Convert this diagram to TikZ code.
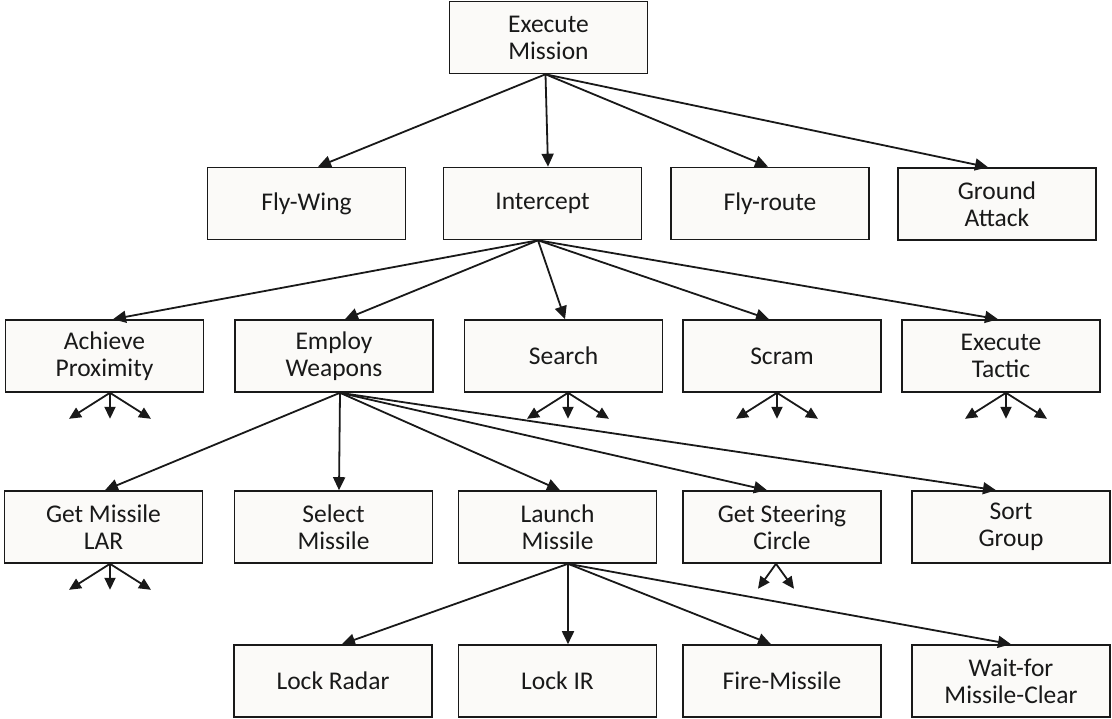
\documentclass[tikz,border=0pt]{standalone}
\usepackage{fontspec}
\setmainfont{Carlito}
\usetikzlibrary{positioning,arrows.meta,calc}
\definecolor{tbLine}{RGB}{25,25,25}
\definecolor{tbFill}{RGB}{251,250,248}
\definecolor{tbText}{RGB}{25,25,25}

\tikzset{
  task/.style={draw=tbLine, fill=tbFill, line width=1.6pt, minimum width=198pt,
    minimum height=72pt, inner sep=0pt, align=center, text=tbText,
    font=\fontsize{25.5}{27}\selectfont},
  link/.style={-{Triangle[length=13pt,width=12pt]}, tbLine, line width=1.8pt},
  stub/.style={-{Triangle[length=12pt,width=11pt]}, tbLine, line width=1.8pt}
}

\begin{document}
\begin{tikzpicture}[x=1pt, y=-1pt]
  % canvas
  \fill[white] (0,0) rectangle (1112,719);
  \useasboundingbox (0,0) rectangle (1112,719);

  % top level
  \node[task] (em) at (548.5,37.5) {Execute\\Mission};

  % second level
  \node[task] (fw) at (306.5,203.5) {Fly-Wing};
  \node[task] (ic) at (542.5,203.5) {Intercept};
  \node[task] (fr) at (770,203.5) {Fly-route};
  \node[task] (ga) at (997,204) {Ground\\Attack};

  % third level
  \node[task] (ap) at (104.5,356) {Achieve\\Proximity};
  \node[task] (ew) at (334,356) {Employ\\Weapons};
  \node[task] (se) at (563.5,356) {Search};
  \node[task] (sc) at (782,356) {Scram};
  \node[task] (et) at (1001,356) {Execute\\Tactic};

  % fourth level
  \node[task] (gl) at (103.5,527) {Get Missile\\LAR};
  \node[task] (sm) at (333.5,527) {Select\\Missile};
  \node[task] (lm) at (557.5,527) {Launch\\Missile};
  \node[task] (gs) at (782,527) {Get Steering\\Circle};
  \node[task] (sg) at (1011,527) {Sort\\Group};

  % fifth level
  \node[task] (lr) at (333,681) {Lock Radar};
  \node[task] (li) at (557.5,681) {Lock IR};
  \node[task] (fm) at (782,681) {Fire-Missile};
  \node[task] (wm) at (1011,681) {Wait-for\\Missile-Clear};

  % Execute Mission children
  \draw[link] ([xshift=-3pt]em.south) -- ([xshift=11.5pt]fw.north);
  \draw[link] ([xshift=-3pt]em.south) -- ([xshift=5.5pt]ic.north);
  \draw[link] ([xshift=-3pt]em.south) -- ([xshift=-2pt]fr.north);
  \draw[link] ([xshift=-3pt]em.south) -- ([xshift=-9pt]ga.north);

  % Intercept children
  \draw[link] ([xshift=-4.5pt]ic.south) -- ([xshift=8.5pt]ap.north);
  \draw[link] ([xshift=-4.5pt]ic.south) -- ([xshift=11pt]ew.north);
  \draw[link] ([xshift=-4.5pt]ic.south) -- ([xshift=1.5pt]se.north);
  \draw[link] ([xshift=-4.5pt]ic.south) -- ([xshift=-13pt]sc.north);
  \draw[link] ([xshift=-4.5pt]ic.south) -- ([xshift=-3pt]et.north);

  % Employ Weapons children
  \draw[link] ([xshift=6pt]ew.south) -- ([xshift=1.5pt]gl.north);
  \draw[link] ([xshift=6pt]ew.south) -- ([xshift=5.5pt]sm.north);
  \draw[link] ([xshift=6pt]ew.south) -- ([xshift=2.5pt]lm.north);
  \draw[link] ([xshift=6pt]ew.south) -- ([xshift=-15pt]gs.north);
  \draw[link] ([xshift=6pt]ew.south) -- ([xshift=-15pt]sg.north);

  % Launch Missile children
  \draw[link] ([xshift=10.5pt]lm.south) -- ([xshift=9pt]lr.north);
  \draw[link] ([xshift=10.5pt]lm.south) -- ([xshift=10.5pt]li.north);
  \draw[link] ([xshift=10.5pt]lm.south) -- ([xshift=-11pt]fm.north);
  \draw[link] ([xshift=10.5pt]lm.south) -- (wm.north);

  % unexpanded subtrees
  \foreach \n/\dx in {ap/5.5, se/4.5, sc/-5, et/5, gl/6.5} {
    \draw[stub] ([xshift=\dx pt]\n.south) -- ++(-41,26);
    \draw[stub] ([xshift=\dx pt]\n.south) -- ++(0,26);
    \draw[stub] ([xshift=\dx pt]\n.south) -- ++(41,26);
  }
  \draw[stub] ([xshift=-6pt]gs.south) -- ++(-18,25);
  \draw[stub] ([xshift=-6pt]gs.south) -- ++(18,25);
\end{tikzpicture}
\end{document}
